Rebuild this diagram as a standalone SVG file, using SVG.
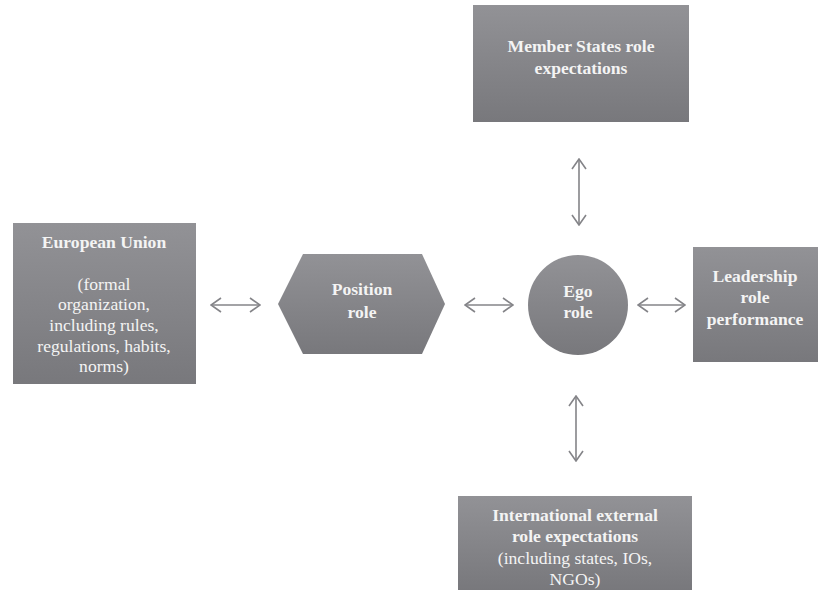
<svg xmlns="http://www.w3.org/2000/svg" width="818" height="593" viewBox="0 0 818 593">
<defs>
<linearGradient id="g" x1="0" y1="0" x2="0" y2="1">
<stop offset="0" stop-color="#929296"/>
<stop offset="1" stop-color="#78787c"/>
</linearGradient>
<marker id="ah" viewBox="0 0 12 16" refX="11" refY="8" markerWidth="12" markerHeight="16" markerUnits="userSpaceOnUse" orient="auto-start-reverse">
<path d="M1,1 L11,8 L1,15" fill="none" stroke="#848488" stroke-width="1.6"/>
</marker>
</defs>
<rect width="818" height="593" fill="#ffffff"/>
<g id="connectors" stroke="#848488" stroke-width="1.6" fill="none" marker-start="url(#ah)" marker-end="url(#ah)">
<line x1="211" y1="305" x2="260" y2="305"/>
<line x1="465" y1="305" x2="513" y2="305"/>
<line x1="638" y1="305" x2="685" y2="305"/>
<line x1="579" y1="159" x2="579" y2="225"/>
<line x1="576" y1="396" x2="576" y2="461"/>
</g>
<g font-family="Liberation Serif, Times New Roman, serif" font-size="17.6" fill="#f4f4f4" text-anchor="middle">
<g id="member-states" font-weight="bold">
<rect fill="url(#g)" x="473" y="5" width="216" height="117"/>
<text x="581" y="52">Member States role</text>
<text x="581" y="74">expectations</text>
</g>
<g id="european-union">
<rect fill="url(#g)" x="13" y="223" width="183" height="161"/>
<text x="104" y="248" font-weight="bold">European Union</text>
<text x="104" y="290">(formal</text>
<text x="104" y="310">organization,</text>
<text x="104" y="331">including rules,</text>
<text x="104" y="352">regulations, habits,</text>
<text x="104" y="372">norms)</text>
</g>
<g id="position-role" font-weight="bold">
<polygon fill="url(#g)" points="278,304 303,254 422,254 445,304 422,354 303,354"/>
<text x="362" y="295">Position</text>
<text x="362" y="318">role</text>
</g>
<g id="ego-role" font-weight="bold">
<circle fill="url(#g)" cx="578" cy="305" r="50"/>
<text x="578" y="297">Ego</text>
<text x="578" y="318">role</text>
</g>
<g id="leadership" font-weight="bold">
<rect fill="url(#g)" x="693" y="247" width="125" height="115"/>
<text x="755" y="282">Leadership</text>
<text x="755" y="303">role</text>
<text x="755" y="325">performance</text>
</g>
<g id="international">
<rect fill="url(#g)" x="458" y="496" width="234" height="94"/>
<text x="575" y="521" font-weight="bold">International external</text>
<text x="575" y="542" font-weight="bold">role expectations</text>
<text x="575" y="564">(including states, IOs,</text>
<text x="575" y="585">NGOs)</text>
</g>
</g>
</svg>
